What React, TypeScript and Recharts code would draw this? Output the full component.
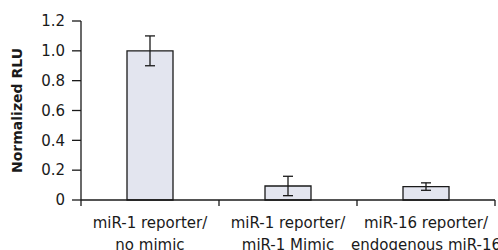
import { BarChart, Bar, XAxis, YAxis, ErrorBar } from 'recharts';

// categories split into two label lines
const CATEGORY_LINE1 = ['miR-1 reporter/', 'miR-1 reporter/', 'miR-16 reporter/'];
const CATEGORY_LINE2 = ['no mimic', 'miR-1 Mimic', 'endogenous miR-16'];
const RLU = [1.0, 0.094, 0.09];
const RLU_ERR = [0.1, 0.065, 0.025];
const Y_TICKS = [0, 0.2, 0.4, 0.6, 0.8, 1.0, 1.2];

const FONT = '"DejaVu Sans", sans-serif';
const INK = '#1a1a1a';
const TICK_LEN = 6;

const data = CATEGORY_LINE1.map((l1, i) => ({
  name: `${l1} ${CATEGORY_LINE2[i]}`,
  rlu: RLU[i],
  err: RLU_ERR[i],
}));

// label + tick marks at the category boundaries (half a band from the centre)
function CategoryTick({ x, y, payload, index, visibleTicksCount }: any) {
  const i = data.findIndex((d) => d.name === payload.value);
  const half = payload.offset ?? 0;
  const top = y - 8; // y is below the axis by tickSize + tickMargin
  return (
    <g>
      <line x1={x - half} x2={x - half} y1={top} y2={top + TICK_LEN} stroke={INK} strokeWidth={1.3} />
      {index === visibleTicksCount - 1 && (
        <line x1={x + half} x2={x + half} y1={top} y2={top + TICK_LEN} stroke={INK} strokeWidth={1.3} />
      )}
      <text x={x} y={y} textAnchor="middle" fontFamily={FONT} fontSize={15} fill={INK}>
        <tspan x={x} dy={20}>{CATEGORY_LINE1[i]}</tspan>
        <tspan x={x} dy={22}>{CATEGORY_LINE2[i]}</tspan>
      </text>
    </g>
  );
}

export default function App() {
  return (
    <div style={{ position: 'absolute', left: 0, top: 0, background: '#fff' }}>
      <BarChart width={498} height={250} data={data} margin={{ top: 21, right: 3, bottom: 0, left: 0 }}>
        <XAxis
          dataKey="name"
          height={50}
          axisLine={{ stroke: INK, strokeWidth: 1.3 }}
          tickLine={false}
          tickSize={6}
          tickMargin={2}
          interval={0}
          tick={<CategoryTick />}
        />
        <YAxis
          width={81}
          domain={[0, 1.2]}
          ticks={Y_TICKS}
          interval={0}
          tickSize={9}
          tickMargin={7}
          tickFormatter={(v: number) => (v === 0 ? '0' : v.toFixed(1))}
          tick={{ fontFamily: FONT, fontSize: 15, fill: INK }}
          axisLine={{ stroke: INK, strokeWidth: 1.3 }}
          tickLine={{ stroke: INK, strokeWidth: 1.3 }}
          label={{
            value: 'Normalized RLU',
            angle: -90,
            position: 'center',
            dx: -23,
            style: { fontFamily: FONT, fontSize: 14, fontWeight: 700, fill: INK, textAnchor: 'middle' },
          }}
        />
        <Bar
          dataKey="rlu"
          barSize={46}
          fill="#e3e5ef"
          stroke={INK}
          strokeWidth={1.3}
          isAnimationActive={false}
        >
          <ErrorBar dataKey="err" width={5} stroke={INK} strokeWidth={1.3} />
        </Bar>
      </BarChart>
    </div>
  );
}
